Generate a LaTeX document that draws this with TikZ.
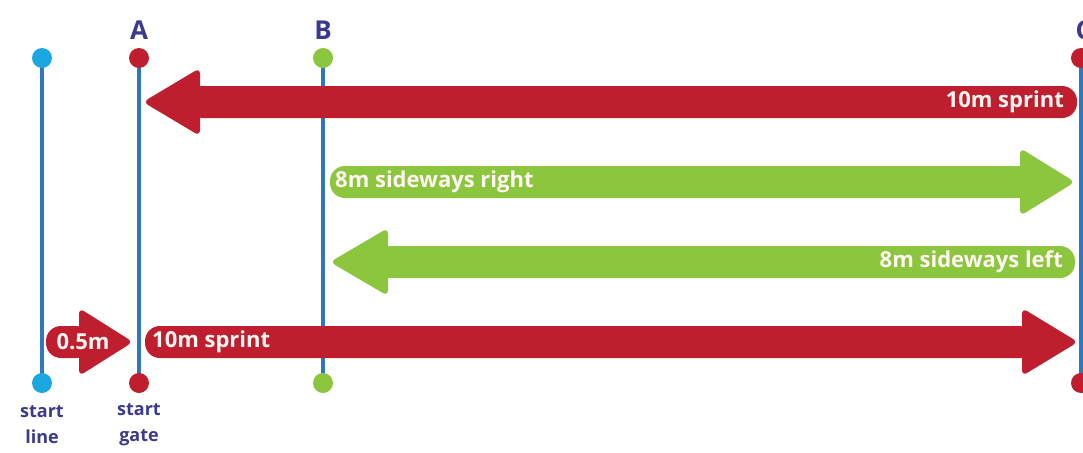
\documentclass[tikz,border=0pt]{standalone}
\usepackage{fontspec}
\setmainfont{Open Sans}
\definecolor{postblue}{HTML}{2F78BD}
\definecolor{cyandot}{HTML}{1BA8E0}
\definecolor{runred}{HTML}{BE1E2D}
\definecolor{sidegreen}{HTML}{8CC63F}
\definecolor{labelind}{HTML}{3C3A8C}
\definecolor{arrowtext}{HTML}{FFF6F2}

% right-pointing arrow: tail x, tip x, centre y, colour, head length
\newcommand\arrowRight[5]{%
  \fill[#4,rounded corners=15pt] (#1,#3-16) rectangle (#2-#5+12,#3+16);
  \fill[#4,rounded corners=6pt] (#2-#5,#3-34) -- (#2,#3) -- (#2-#5,#3+34) -- cycle;}
% left-pointing arrow: tip x, tail x, centre y, colour, head length
\newcommand\arrowLeft[5]{%
  \fill[#4,rounded corners=15pt] (#1+#5-12,#3-16) rectangle (#2,#3+16);
  \fill[#4,rounded corners=6pt] (#1+#5,#3-34) -- (#1,#3) -- (#1+#5,#3+34) -- cycle;}

\begin{document}
\begin{tikzpicture}[x=1pt,y=-1pt,
  post/.style={draw=postblue,line width=3.5pt},
  dot/.style={circle,inner sep=0pt,minimum size=20pt},
  marker/.style={font=\bfseries\fontsize{26}{26}\selectfont,text=labelind},
  caption/.style={font=\bfseries\fontsize{18}{26}\selectfont,text=labelind,align=center},
  runlabel/.style={font=\bfseries\fontsize{22}{24}\selectfont,text=arrowtext,inner sep=0pt}]
\useasboundingbox (0,0) rectangle (1083,452);
\clip (0,0) rectangle (1083,452);
\fill[white] (0,0) rectangle (1083,452);

% posts
\foreach \n/\x in {sl/42,sg/139,pb/323,pc/1081}{
  \coordinate (\n top) at (\x,58);
  \coordinate (\n bot) at (\x,383);
  \draw[post] (\n top) -- (\n bot);
}

% arrows
\arrowLeft{143}{1077}{102}{runred}{57}
\arrowRight{330}{1075}{182}{sidegreen}{55}
\arrowLeft{330}{1075}{262}{sidegreen}{58}
\arrowRight{145}{1078}{342}{runred}{56}
\arrowRight{46}{133}{342}{runred}{54}

% post heads and feet
\node[dot,fill=cyandot] (slt) at (sltop) {};
\node[dot,fill=cyandot] (slb) at (slbot) {};
\node[dot,fill=runred] (sgt) at (sgtop) {};
\node[dot,fill=runred] (sgb) at (sgbot) {};
\node[dot,fill=sidegreen] (pbt) at (pbtop) {};
\node[dot,fill=sidegreen] (pbb) at (pbbot) {};
\node[dot,fill=runred] (pct) at (pctop) {};
\node[dot,fill=runred] (pcb) at (pcbot) {};

% post letters
\node[marker] (la) at (139,30) {A};
\node[marker] (lb) at (323,30) {B};
\node[marker,anchor=west] (lc) at (1072,30) {C};

% captions
\node[caption] (capsl) at (42,425) {start\\line};
\node[caption] (capsg) at (139,425) {start\\gate};

% arrow texts
\node[runlabel,anchor=east] (t1) at (1064,102) {10m sprint};
\node[runlabel,anchor=west] (t2) at (335,182) {8m sideways right};
\node[runlabel,anchor=east] (t3) at (1063,262) {8m sideways left};
\node[runlabel,anchor=west] (t4) at (152,342) {10m sprint};
\node[runlabel] (t5) at (83,342) {0.5m};
\end{tikzpicture}
\end{document}
